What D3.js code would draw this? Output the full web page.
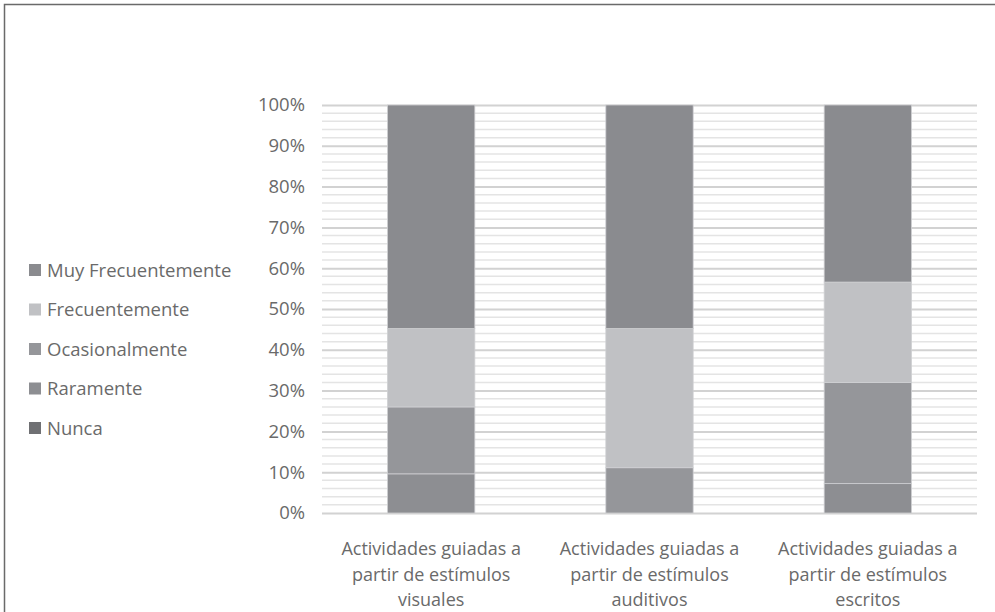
<!DOCTYPE html>
<meta charset="utf-8">
<html lang="es">
<style>
body { margin: 0; background: #fff; }
text { font-family: "Open Sans", sans-serif; fill: #6a6a6a; }
</style>
<body>
<script src="https://d3js.org/d3.v7.min.js"></script>
<script>

// categories and series (percent of answers)
var categorias = [
  ["Actividades guiadas a", "partir de estímulos", "visuales"],
  ["Actividades guiadas a", "partir de estímulos", "auditivos"],
  ["Actividades guiadas a", "partir de estímulos", "escritos"]
];
var nunca          = [0, 0, 0];
var raramente      = [9.6, 0, 7.2];
var ocasionalmente = [16.4, 11.1, 24.8];
var frecuentemente = [19.2, 34.1, 24.6];
var muyFrecuente   = [54.8, 54.8, 43.4];

var serieNombres = ["Nunca", "Raramente", "Ocasionalmente", "Frecuentemente", "Muy Frecuentemente"];
var serieColores = ["#6f7073", "#8d8e92", "#95969a", "#c0c1c4", "#8a8b8f"];
var yTicks = [0, 10, 20, 30, 40, 50, 60, 70, 80, 90, 100];

var series = [nunca, raramente, ocasionalmente, frecuentemente, muyFrecuente];

var W = 995, H = 612;
var margin = {top: 105, left: 322, right: 18, bottom: 99};
var width = W - margin.left - margin.right,
    height = H - margin.top - margin.bottom;

var svg = d3.select("body").append("svg")
    .attr("width", W)
    .attr("height", H);

// frame
svg.append("path")
    .attr("d", "M4.5," + H + "V4.5H" + W)
    .attr("fill", "none")
    .attr("stroke", "#6a6a6a")
    .attr("stroke-width", 1.5);

var g = svg.append("g")
    .attr("transform", "translate(" + margin.left + "," + margin.top + ")");

var x = d3.scaleBand()
    .domain(d3.range(categorias.length))
    .range([0, width])
    .paddingInner(0.6)
    .paddingOuter(0.3);

var y = d3.scaleLinear().domain([0, 100]).range([height, 0]);

// minor gridlines every 2%
g.append("g").selectAll("line")
    .data(d3.range(0, 101, 2).filter(function(d) { return d % 10 != 0; }))
  .enter().append("line")
    .attr("x1", 0).attr("x2", width)
    .attr("y1", function(d) { return y(d); })
    .attr("y2", function(d) { return y(d); })
    .attr("stroke", "#e4e4e4")
    .attr("stroke-width", 1.5);

// major gridlines + labels
var yAxis = d3.axisLeft(y)
    .tickValues(yTicks)
    .tickSize(-width)
    .tickPadding(17)
    .tickFormat(function(d) { return d + "%"; });

g.append("g")
    .call(yAxis)
    .call(function(a) {
      a.select(".domain").remove();
      a.selectAll(".tick line").attr("stroke", "#d2d2d2").attr("stroke-width", 2);
      a.selectAll(".tick text")
        .style("font-size", "18.5px")
        .attr("fill", "#6a6a6a")
        .attr("font-family", "Open Sans, sans-serif");
    });

// stacked bars
var stackData = categorias.map(function(c, i) {
  var o = {i: i};
  serieNombres.forEach(function(n, k) { o[n] = series[k][i]; });
  return o;
});
var stack = d3.stack().keys(serieNombres)(stackData);

g.selectAll(".serie")
    .data(stack)
  .enter().append("g")
    .attr("class", "serie")
    .attr("fill", function(d, k) { return serieColores[k]; })
  .selectAll("rect")
    .data(function(d) { return d; })
  .enter().append("rect")
    .attr("x", function(d) { return x(d.data.i); })
    .attr("width", x.bandwidth())
    .attr("y", function(d) { return y(d[1]); })
    .attr("height", function(d) { return y(d[0]) - y(d[1]); })
    .attr("stroke", "#cfd0d3")
    .attr("stroke-width", function(d) { return d[1] - d[0] > 0 ? 0.8 : 0; });

// category labels
var labels = g.append("g").selectAll("text")
    .data(categorias)
  .enter().append("text")
    .attr("text-anchor", "middle")
    .attr("x", function(d, i) { return x(i) + x.bandwidth() / 2; })
    .attr("y", height + 42)
    .style("font-size", "18px");

labels.selectAll("tspan")
    .data(function(d) { return d; })
  .enter().append("tspan")
    .attr("x", function() { return d3.select(this.parentNode).attr("x"); })
    .attr("dy", function(d, j) { return j == 0 ? 0 : 25.5; })
    .text(function(d) { return d; });

// legend (top series first)
var legend = svg.append("g")
    .attr("transform", "translate(29,270)");

var items = legend.selectAll("g")
    .data(serieNombres.slice().reverse())
  .enter().append("g")
    .attr("transform", function(d, i) { return "translate(0," + (i * 39.5) + ")"; });

items.append("rect")
    .attr("x", 0).attr("y", -6)
    .attr("width", 12).attr("height", 12)
    .attr("fill", function(d) { return serieColores[serieNombres.indexOf(d)]; });

items.append("text")
    .attr("x", 18)
    .attr("y", 6.5)
    .style("font-size", "18.5px")
    .text(function(d) { return d; });

</script>
</body>
</html>
